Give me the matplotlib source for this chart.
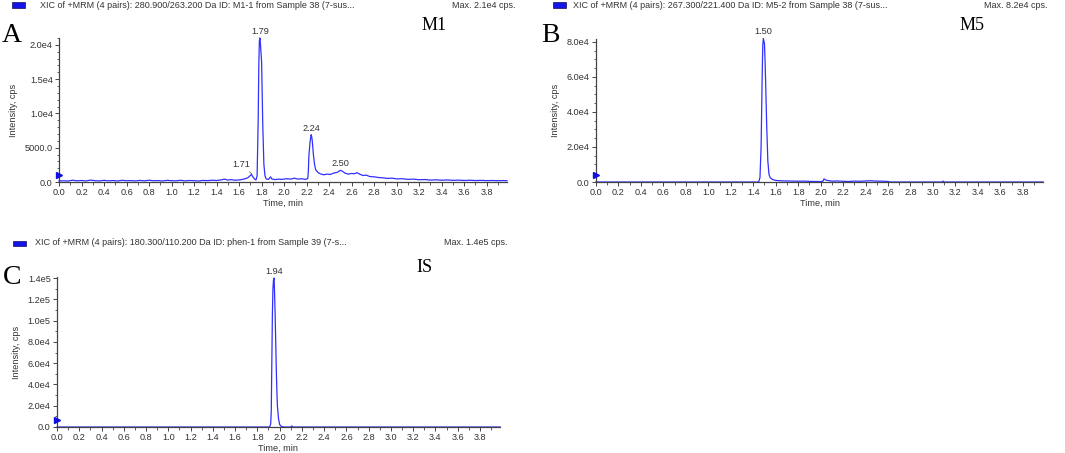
#!/usr/bin/env python3
"""
Three MRM extracted-ion chromatograms (M1, M5 and internal standard).
"""

import matplotlib
matplotlib.use('Agg')
import matplotlib.pyplot as plt
from matplotlib.patches import Rectangle
from matplotlib.ticker import FixedLocator, MultipleLocator

plt.rcParams['font.family'] = ['Liberation Sans', 'DejaVu Sans']

# ---- data ----
m1_time = [0.00, 0.04, 0.08, 0.12, 0.16, 0.20, 0.24, 0.28, 0.32, 0.36, 0.40, 0.44,
           0.48, 0.52, 0.56, 0.60, 0.64, 0.68, 0.72, 0.76, 0.80, 0.84, 0.88, 0.92,
           0.96, 1.00, 1.04, 1.08, 1.12, 1.16, 1.20, 1.24, 1.28, 1.32, 1.36, 1.40,
           1.44, 1.47, 1.50, 1.53, 1.56, 1.60, 1.63, 1.66, 1.68, 1.70, 1.71, 1.72,
           1.74, 1.75, 1.76, 1.77, 1.775, 1.78, 1.785, 1.79, 1.80, 1.805, 1.81, 1.82,
           1.83, 1.84, 1.86, 1.88, 1.89, 1.92, 1.95, 1.98, 2.02, 2.06, 2.09, 2.12,
           2.16, 2.19, 2.21, 2.215, 2.22, 2.23, 2.24, 2.245, 2.25, 2.26, 2.27, 2.28,
           2.30, 2.32, 2.35, 2.38, 2.41, 2.44, 2.47, 2.50, 2.52, 2.54, 2.57, 2.60,
           2.62, 2.65, 2.67, 2.70, 2.73, 2.76, 2.80, 2.84, 2.88, 2.92, 2.96, 3.00,
           3.05, 3.10, 3.15, 3.20, 3.25, 3.30, 3.35, 3.40, 3.45, 3.50, 3.55, 3.60,
           3.65, 3.70, 3.75, 3.80, 3.85, 3.90, 3.95, 3.98]
m1_cps = [150, 180, 140, 260, 170, 220, 150, 280, 190, 160, 240, 170,
          210, 150, 250, 180, 200, 160, 230, 170, 260, 180, 210, 150,
          240, 190, 170, 250, 160, 220, 180, 150, 230, 200, 260, 220,
          300, 420, 280, 350, 260, 300, 380, 500, 650, 950, 1100, 800,
          400, 300, 900, 9500, 17000, 20500, 21000, 20000, 17500, 13000, 8500, 2600,
          900, 450, 380, 750, 450, 350, 420, 380, 480, 420, 560, 430,
          470, 380, 500, 1500, 3800, 5800, 6900, 6600, 6000, 4000, 2600, 1800,
          1400, 1200, 1050, 1150, 1100, 1300, 1400, 1700, 1550, 1300, 1150, 1250,
          1200, 1350, 1150, 950, 1000, 800, 750, 650, 600, 520, 560, 450,
          480, 380, 420, 330, 360, 280, 320, 260, 300, 240, 270, 220,
          260, 210, 240, 200, 220, 190, 210, 180]

m5_time = [0.00, 1.44, 1.45, 1.46, 1.47, 1.48, 1.485, 1.49, 1.50, 1.505, 1.51, 1.52,
           1.53, 1.54, 1.55, 1.57, 1.60, 1.64, 1.68, 1.72, 1.76, 1.80, 1.85, 1.90,
           1.95, 2.00, 2.02, 2.03, 2.04, 2.06, 2.10, 2.15, 2.20, 2.25, 2.30, 2.35,
           2.40, 2.45, 2.50, 2.55, 2.60, 2.62, 3.08, 3.09, 3.10, 3.98]
m5_cps = [0, 0, 300, 2500, 20000, 62000, 78000, 82000, 79000, 70000, 58000, 32000,
          12000, 4500, 2500, 1500, 900, 700, 600, 550, 500, 450, 500, 350,
          300, 250, 400, 1800, 1300, 900, 500, 600, 400, 300, 500, 400,
          600, 700, 500, 450, 300, 0, 0, 500, 0, 0]

is_time = [0.00, 1.91, 1.92, 1.925, 1.93, 1.935, 1.94, 1.945, 1.95, 1.955, 1.96,
           1.965, 1.97, 1.975, 1.98, 1.99, 2.00, 2.01, 2.02, 2.04, 2.10, 2.11,
           2.12, 3.98]
is_cps = [0, 0, 3000, 15000, 60000, 105000, 130000, 138000, 140000, 125000, 105000,
          80000, 55000, 35000, 20000, 8000, 2500, 1000, 400, 0, 0, 900,
          0, 0]

time_ticks = [0.0, 0.2, 0.4, 0.6, 0.8, 1.0, 1.2, 1.4, 1.6, 1.8, 2.0,
              2.2, 2.4, 2.6, 2.8, 3.0, 3.2, 3.4, 3.6, 3.8]

m1_yticks = [0, 5000, 10000, 15000, 20000]
m1_ylabels = ['0.0', '5000.0', '1.0e4', '1.5e4', '2.0e4']
m5_yticks = [0, 20000, 40000, 60000, 80000]
m5_ylabels = ['0.0', '2.0e4', '4.0e4', '6.0e4', '8.0e4']
is_yticks = [0, 20000, 40000, 60000, 80000, 100000, 120000, 140000]
is_ylabels = ['0.0', '2.0e4', '4.0e4', '6.0e4', '8.0e4', '1.0e5', '1.2e5', '1.4e5']

m1_peaks = [(1.785, 21000, '1.79'), (2.24, 6900, '2.24'), (2.50, 1700, '2.50')]
m5_peaks = [(1.49, 82000, '1.50')]
is_peaks = [(1.95, 140000, '1.94')]

titles = ['XIC of +MRM (4 pairs): 280.900/263.200 Da ID: M1-1 from Sample 38 (7-sus...',
          'XIC of +MRM (4 pairs): 267.300/221.400 Da ID: M5-2 from Sample 38 (7-sus...',
          'XIC of +MRM (4 pairs): 180.300/110.200 Da ID: phen-1 from Sample 39 (7-s...']
max_texts = ['Max. 2.1e4 cps.', 'Max. 8.2e4 cps.', 'Max. 1.4e5 cps.']

TRACE = '#3030ff'
TXT = '#333333'
W, H = 1065, 453

fig = plt.figure(figsize=(W / 100, H / 100), dpi=100)


def px(x, y):
    return x / W, 1 - y / H


def make_axes(rect_px, ylim, yticks, ylabels, minor_step):
    x0, y0, x1, y1 = rect_px
    ax = fig.add_axes([x0 / W, 1 - y1 / H, (x1 - x0) / W, (y1 - y0) / H])
    ax.set_xlim(0, 3.98)
    ax.set_ylim(*ylim)
    for s in ('top', 'right'):
        ax.spines[s].set_visible(False)
    for s in ('left', 'bottom'):
        ax.spines[s].set_color('#444444')
        ax.spines[s].set_linewidth(0.9)
    ax.xaxis.set_major_locator(FixedLocator(time_ticks))
    ax.set_xticklabels([f'{t:.1f}' for t in time_ticks])
    ax.xaxis.set_minor_locator(MultipleLocator(0.1))
    ax.yaxis.set_major_locator(FixedLocator(yticks))
    ax.set_yticklabels(ylabels)
    ax.yaxis.set_minor_locator(MultipleLocator(minor_step))
    ax.tick_params(which='major', length=3, width=0.7, color='#444444',
                   labelsize=6.6, labelcolor=TXT, pad=1.5)
    ax.tick_params(which='minor', length=1.8, width=0.6, color='#444444')
    ax.set_xlabel('Time, min', fontsize=6.6, color=TXT, labelpad=1)
    ax.set_ylabel('Intensity, cps', fontsize=6.6, color=TXT, labelpad=5)
    # start-of-run marker on the y axis
    ax.plot(0, 0.05, marker='>', markersize=5, color='#1010e0',
            transform=ax.transAxes, clip_on=False, zorder=5)
    return ax


def header(sq_x, y, text_x, max_right, title, max_text):
    fig.patches.append(Rectangle(px(sq_x, y + 2.5), 13 / W, 5 / H,
                                 transform=fig.transFigure, facecolor='#1414e6',
                                 edgecolor='#101060', linewidth=0.5))
    fig.text(*px(text_x, y), title, fontsize=6.5, color=TXT, va='center', ha='left')
    fig.text(*px(max_right, y), max_text, fontsize=6.5, color=TXT, va='center', ha='right')


def label_peaks(ax, peaks):
    for t, v, lab in peaks:
        ax.annotate(lab, xy=(t, v), xytext=(0, 1.5), textcoords='offset points',
                    ha='center', va='bottom', fontsize=6.6, color=TXT,
                    annotation_clip=False)


# Panel A - M1
axA = make_axes((59, 38, 507, 182), (0, 21000), m1_yticks, m1_ylabels, 1000)
axA.plot(m1_time, m1_cps, color=TRACE, linewidth=0.9, clip_on=False)
label_peaks(axA, m1_peaks)
axA.annotate('1.71', xy=(1.715, 1150), xytext=(1.62, 1900), ha='center', va='bottom',
             fontsize=6.6, color=TXT,
             arrowprops=dict(arrowstyle='-', color='#555555', lw=0.5,
                             shrinkA=0, shrinkB=0))

# Panel B - M5
axB = make_axes((596, 39, 1043, 182), (0, 81700), m5_yticks, m5_ylabels, 5000)
axB.plot(m5_time, m5_cps, color=TRACE, linewidth=0.9, clip_on=False)
label_peaks(axB, m5_peaks)

# Panel C - internal standard
axC = make_axes((57, 277, 500, 427), (0, 141000), is_yticks, is_ylabels, 10000)
axC.plot(is_time, is_cps, color=TRACE, linewidth=0.9, clip_on=False)
label_peaks(axC, is_peaks)

header(12, 5, 40, 515, titles[0], max_texts[0])
header(553, 5, 573, 1048, titles[1], max_texts[1])
header(13, 243, 35, 508, titles[2], max_texts[2])

serif = ['Liberation Serif', 'DejaVu Serif']
for lx, ly, letter in [(12, 35, 'A'), (550, 35, 'B'), (12, 278, 'C')]:
    fig.text(*px(lx, ly), letter, fontsize=20, family=serif, ha='center', va='center')
for lx, ly, name in [(434, 26, 'M1'), (972, 26, 'M5'), (424, 267, 'IS')]:
    fig.text(*px(lx, ly), name, fontsize=13, family=serif, ha='center', va='center')

plt.savefig('out.png', dpi=100)
plt.close()
